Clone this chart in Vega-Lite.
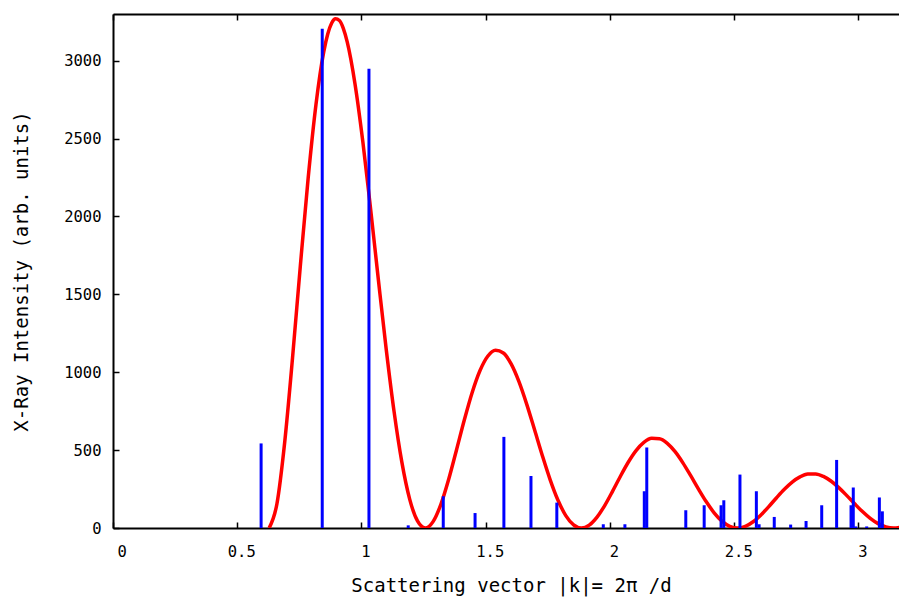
{
  "$schema": "https://vega.github.io/schema/vega-lite/v6.json",
  "width": 786,
  "height": 514,
  "autosize": {"type": "none"},
  "padding": {"left": 113, "top": 14, "right": 0, "bottom": 69},
  "background": "white",
  "config": {
    "view": {"stroke": null},
    "axis": {
      "labelFont": "DejaVu Sans Mono",
      "titleFont": "DejaVu Sans Mono",
      "labelFontSize": 15.5,
      "titleFontSize": 19,
      "labelColor": "black",
      "titleColor": "black",
      "domainColor": "black",
      "domainWidth": 2,
      "tickColor": "black",
      "tickWidth": 1.5,
      "grid": false,
      "titleFontWeight": "normal"
    }
  },
  "datasets": {
    "peaks": [
      {"k": 0.596, "intensity": 543},
      {"k": 0.842, "intensity": 3205},
      {"k": 1.030, "intensity": 2948},
      {"k": 1.188, "intensity": 17},
      {"k": 1.329, "intensity": 204},
      {"k": 1.457, "intensity": 96},
      {"k": 1.573, "intensity": 585},
      {"k": 1.682, "intensity": 334},
      {"k": 1.786, "intensity": 163},
      {"k": 1.973, "intensity": 24},
      {"k": 2.060, "intensity": 24},
      {"k": 2.138, "intensity": 236},
      {"k": 2.148, "intensity": 517},
      {"k": 2.305, "intensity": 114},
      {"k": 2.379, "intensity": 146},
      {"k": 2.447, "intensity": 146},
      {"k": 2.458, "intensity": 178},
      {"k": 2.523, "intensity": 343},
      {"k": 2.589, "intensity": 236},
      {"k": 2.600, "intensity": 24},
      {"k": 2.661, "intensity": 71},
      {"k": 2.727, "intensity": 22},
      {"k": 2.789, "intensity": 45},
      {"k": 2.852, "intensity": 146},
      {"k": 2.912, "intensity": 437},
      {"k": 2.970, "intensity": 146},
      {"k": 2.979, "intensity": 260},
      {"k": 2.989, "intensity": 10},
      {"k": 3.033, "intensity": 10},
      {"k": 3.084, "intensity": 196},
      {"k": 3.096, "intensity": 107}
    ],
    "curve": [
      {"k": 0.62832, "intensity": 0},
      {"k": 0.65973, "intensity": 155.9},
      {"k": 0.69115, "intensity": 554.1},
      {"k": 0.72257, "intensity": 1094.3},
      {"k": 0.75398, "intensity": 1684.6},
      {"k": 0.78540, "intensity": 2246.9},
      {"k": 0.81681, "intensity": 2719.3},
      {"k": 0.84823, "intensity": 3058.6},
      {"k": 0.86394, "intensity": 3170.0},
      {"k": 0.87965, "intensity": 3240.3},
      {"k": 0.89535, "intensity": 3269.3},
      {"k": 0.91106, "intensity": 3257.9},
      {"k": 0.92677, "intensity": 3207.5},
      {"k": 0.94248, "intensity": 3120.7},
      {"k": 0.97389, "intensity": 2851.1},
      {"k": 1.00531, "intensity": 2480.9},
      {"k": 1.03673, "intensity": 2047.5},
      {"k": 1.06814, "intensity": 1590.2},
      {"k": 1.09956, "intensity": 1146.4},
      {"k": 1.13097, "intensity": 748.7},
      {"k": 1.16239, "intensity": 422.8},
      {"k": 1.19381, "intensity": 185.7},
      {"k": 1.22522, "intensity": 45.2},
      {"k": 1.25664, "intensity": 0},
      {"k": 1.28805, "intensity": 40.9},
      {"k": 1.31947, "intensity": 152.0},
      {"k": 1.35088, "intensity": 313.1},
      {"k": 1.38230, "intensity": 501.2},
      {"k": 1.41372, "intensity": 693.5},
      {"k": 1.44513, "intensity": 868.7},
      {"k": 1.47655, "intensity": 1009.4},
      {"k": 1.50796, "intensity": 1102.6},
      {"k": 1.53938, "intensity": 1141.1},
      {"k": 1.57080, "intensity": 1123.4},
      {"k": 1.60221, "intensity": 1053.4},
      {"k": 1.63363, "intensity": 939.5},
      {"k": 1.66504, "intensity": 793.8},
      {"k": 1.69646, "intensity": 630.4},
      {"k": 1.72788, "intensity": 464.2},
      {"k": 1.75929, "intensity": 309.4},
      {"k": 1.79071, "intensity": 178.2},
      {"k": 1.82212, "intensity": 79.7},
      {"k": 1.85354, "intensity": 19.7},
      {"k": 1.88496, "intensity": 0},
      {"k": 1.91637, "intensity": 18.5},
      {"k": 1.94779, "intensity": 69.8},
      {"k": 1.97920, "intensity": 145.8},
      {"k": 2.01062, "intensity": 236.9},
      {"k": 2.04204, "intensity": 332.4},
      {"k": 2.07345, "intensity": 422.0},
      {"k": 2.10487, "intensity": 496.7},
      {"k": 2.13628, "intensity": 549.4},
      {"k": 2.16770, "intensity": 575.5},
      {"k": 2.19911, "intensity": 573.2},
      {"k": 2.23053, "intensity": 543.5},
      {"k": 2.26195, "intensity": 490.0},
      {"k": 2.29336, "intensity": 418.4},
      {"k": 2.32478, "intensity": 335.7},
      {"k": 2.35619, "intensity": 249.7},
      {"k": 2.38761, "intensity": 168.0},
      {"k": 2.41903, "intensity": 97.6},
      {"k": 2.45044, "intensity": 44.1},
      {"k": 2.48186, "intensity": 11.0},
      {"k": 2.51327, "intensity": 0},
      {"k": 2.54469, "intensity": 10.5},
      {"k": 2.57611, "intensity": 39.9},
      {"k": 2.60752, "intensity": 84.0},
      {"k": 2.63894, "intensity": 137.5},
      {"k": 2.67035, "intensity": 194.4},
      {"k": 2.70177, "intensity": 248.5},
      {"k": 2.73319, "intensity": 294.6},
      {"k": 2.76460, "intensity": 328.0},
      {"k": 2.79602, "intensity": 345.9},
      {"k": 2.82743, "intensity": 346.7},
      {"k": 2.85885, "intensity": 330.9},
      {"k": 2.89027, "intensity": 300.1},
      {"k": 2.92168, "intensity": 257.8},
      {"k": 2.95310, "intensity": 208.0},
      {"k": 2.98451, "intensity": 155.6},
      {"k": 3.01593, "intensity": 105.3},
      {"k": 3.04734, "intensity": 61.5},
      {"k": 3.07876, "intensity": 27.9},
      {"k": 3.11018, "intensity": 7.0},
      {"k": 3.14159, "intensity": 0},
      {"k": 3.17301, "intensity": 6.7}
    ]
  },
  "layer": [
    {
      "data": {"name": "curve"},
      "mark": {"type": "line", "color": "#ff0000", "strokeWidth": 3.5, "clip": true, "interpolate": "monotone"},
      "encoding": {
        "x": {
          "field": "k", "type": "quantitative",
          "scale": {"domain": [0, 3.163], "nice": false, "zero": false},
          "axis": {"orient": "top", "labels": false, "title": null, "values": [0, 0.5, 1, 1.5, 2, 2.5, 3], "tickSize": -6}
        },
        "y": {
          "field": "intensity", "type": "quantitative",
          "scale": {"domain": [0, 3300], "nice": false},
          "axis": null
        }
      }
    },
    {
      "data": {"name": "peaks"},
      "mark": {"type": "rule", "color": "#0000ff", "strokeWidth": 3},
      "encoding": {
        "x": {
          "field": "k", "type": "quantitative",
          "scale": {"domain": [0, 3.163], "nice": false, "zero": false},
          "axis": {
            "orient": "bottom", "values": [0, 0.5, 1, 1.5, 2, 2.5, 3], "format": "~g",
            "tickSize": -6, "labelPadding": 22, "labelOffset": 4,
            "title": "Scattering vector |k|= 2π /d",
            "titleX": 398, "titleY": 63, "titleBaseline": "alphabetic", "titleAlign": "center"
          }
        },
        "y": {
          "field": "intensity", "type": "quantitative",
          "scale": {"domain": [0, 3300], "nice": false},
          "axis": {
            "orient": "left", "values": [0, 500, 1000, 1500, 2000, 2500, 3000], "format": "d",
            "tickSize": -6, "labelPadding": 18,
            "title": "X-Ray Intensity (arb. units)",
            "titleX": -86, "titleY": 257, "titleBaseline": "alphabetic", "titleAlign": "center", "titleAngle": -90
          }
        },
        "y2": {"datum": 0}
      }
    }
  ],
  "resolve": {"axis": {"x": "independent", "y": "independent"}}
}
